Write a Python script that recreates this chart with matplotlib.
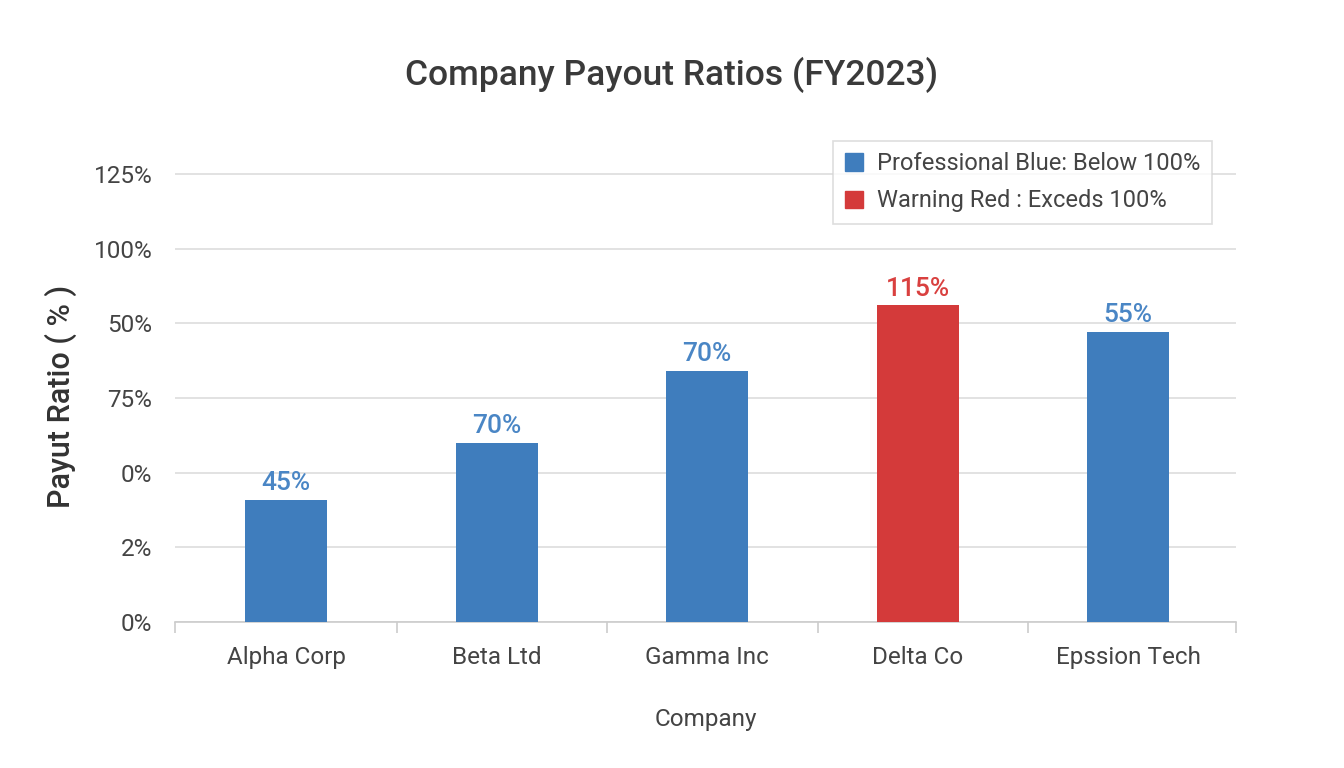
import matplotlib.pyplot as plt
from matplotlib.patches import Patch

plt.rcParams['font.family'] = ['Roboto', 'DejaVu Sans']

companies = ['Alpha Corp', 'Beta Ltd', 'Gamma Inc', 'Delta Co', 'Epssion Tech']
# bar heights as drawn (axis units), labels as printed on the chart
heights = [41, 60, 84, 106, 97]
bar_labels = ['45%', '70%', '70%', '115%', '55%']
over_limit = [False, False, False, True, False]

tick_pos = [0, 25, 50, 75, 100, 125, 150]
tick_labels = ['0%', '2%', '0%', '75%', '50%', '100%', '125%']

blue = '#3f7dbd'
blue_txt = '#4a86c5'
red = '#d43a3a'
red_txt = '#d9403f'

fig = plt.figure(figsize=(13.44, 7.68), dpi=100)
ax = fig.add_axes([0.130, 0.190, 0.790, 0.6225])

x = list(range(len(companies)))
colors = [red if o else blue for o in over_limit]
ax.bar(x, heights, width=0.39, color=colors, zorder=3)

for xi, h, lab, o in zip(x, heights, bar_labels, over_limit):
    ax.text(xi, h + 1.6, lab, ha='center', va='bottom', fontsize=19,
            fontweight='medium', color=red_txt if o else blue_txt, zorder=4)

ax.set_xlim(-0.53, 4.515)
ax.set_ylim(0, 160)
ax.set_yticks(tick_pos)
ax.set_yticklabels(tick_labels)
ax.set_xticks(x)
ax.set_xticklabels(companies)
ax.set_xticks([-0.53, 0.525, 1.525, 2.525, 3.525, 4.515], minor=True)

ax.grid(axis='y', color='#dddddd', linewidth=1.2, zorder=0)
for s in ['top', 'right', 'left']:
    ax.spines[s].set_visible(False)
ax.spines['bottom'].set_color('#cccccc')
ax.spines['bottom'].set_linewidth(1.2)

ax.tick_params(axis='y', length=0, labelsize=17.5, labelcolor='#444444', pad=16)
ax.tick_params(axis='x', which='major', length=0, labelsize=17.5,
               labelcolor='#444444', pad=17)
ax.tick_params(axis='x', which='minor', length=8, color='#cccccc', width=1.2,
               direction='out')

ax.set_xlabel('Company', fontsize=17.5, color='#444444', labelpad=28)
ax.set_ylabel('Payut Ratio ( % )', fontsize=22, fontweight='medium',
              color='#333333')
ax.yaxis.set_label_coords(-0.092, 0.473)

fig.text(0.5, 0.902, 'Company Payout Ratios (FY2023)', ha='center', va='center',
         fontsize=25.5, fontweight='medium', color='#3a3a3a')

handles = [Patch(color=blue, label='Professional Blue: Below 100%'),
           Patch(color=red, label='Warning Red : Exceds 100%')]
leg = ax.legend(handles=handles, loc='upper right', bbox_to_anchor=(0.988, 1.032),
                fontsize=17, frameon=True, fancybox=False, handlelength=0.75,
                handleheight=0.75, handletextpad=0.6, borderpad=0.5,
                labelspacing=0.6)
leg.get_frame().set_edgecolor('#d5d5d5')
leg.get_frame().set_linewidth(1.2)
for t in leg.get_texts():
    t.set_color('#444444')

fig.savefig('out.png', dpi=100, facecolor='white')
